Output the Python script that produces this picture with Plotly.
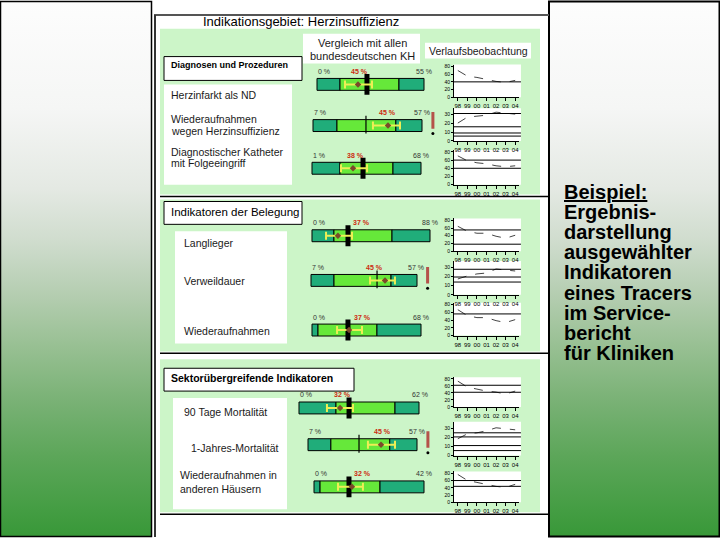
import base64
import plotly.graph_objects as go

W, H = 720, 540
FONT = "Liberation Sans, Arial, sans-serif"

# ---------------- data ----------------
indicator_labels = [
    ["Herzinfarkt als ND"],
    ["Wiederaufnahmen", "wegen Herzinsuffizienz"],
    ["Diagnostischer Katheter", "mit Folgeeingriff"],
    ["Langlieger"],
    ["Verweildauer"],
    ["Wiederaufnahmen"],
    ["90 Tage Mortalität"],
    ["1-Jahres-Mortalität"],
    ["Wiederaufnahmen in", "anderen Häusern"],
]
# comparison bars (position along each bar, 0..100)
seg_low = [21.5, 22.0, 25.7, 18.6, 21.7, 5.5, 30.8, 21.0, 5.5]
seg_high = [76.6, 76.0, 74.3, 67.8, 75.5, 59.6, 80.0, 75.0, 60.0]
national = [46.7, 48.6, 46.8, 30.5, 62.3, 33.0, 41.7, 46.8, 31.8]
hospital = [38.3, 68.8, 37.6, 22.0, 69.8, 34.0, 34.2, 67.0, 34.5]
ci_low = [26.2, 55.0, 26.6, 11.9, 55.7, 23.0, 23.3, 55.0, 21.8]
ci_high = [51.4, 79.8, 50.5, 33.9, 79.2, 45.9, 45.0, 79.8, 44.5]
mid_label_pos = [40, 68, 40, 42, 60, 46, 36, 68, 44.5]
label_min = ["0 %", "7 %", "1 %", "0 %", "7 %", "0 %", "0 %", "7 %", "0 %"]
label_mid = ["45 %", "45 %", "38 %", "37 %", "45 %", "37 %", "32 %", "45 %", "32 %"]
label_max = ["55 %", "57 %", "68 %", "88 %", "57 %", "68 %", "62 %", "57 %", "42 %"]
thin_marker = [False, True, False, False, True, False, False, True, False]

# trend charts (Verlaufsbeobachtung)
years = ["98", "99", "00", "01", "02", "03", "04"]
trend_herzinfarkt = [69.5, 54.9, 51.5, 46.4, 41.2, 38.6, 43.8]
trend_wa_herz = [20.2, 26.9, 28.0, 29.1, 32.5, 31.4, 30.3]
trend_katheter = [70.4, 58.3, 53.4, 51.0, 46.1, 43.7, 46.1]
trend_langlieger = [64.4, 51.5, 46.4, 46.4, 38.6, 33.5, 41.2]
trend_verweildauer = [17.4, 20.7, 22.9, 23.9, 28.3, 27.2, 26.1]
trend_wiederaufn = [67.0, 51.5, 46.4, 46.4, 38.6, 33.5, 41.2]
trend_mort90 = [73.7, 56.7, 51.0, 45.3, 42.5, 36.8, 45.3]
trend_mort1j = [18.5, 23.9, 25.0, 27.2, 30.5, 29.4, 28.3]
trend_wa_andere = [76.8, 60.3, 54.8, 49.4, 43.9, 41.1, 49.4]
ref_herzinfarkt = [40]
ref_wa_herz = [31, 16, 9, 5.5]
ref_katheter = [60, 40]
ref_langlieger = [55, 18]
ref_verweildauer = [28, 19.5, 14]
ref_wiederaufn = [56]
ref_mort90 = [62, 42]
ref_mort1j = [25, 20.5, 11, 5.5]
ref_wa_andere = [60, 44]
scale_max = [85, 37, 85, 85, 37, 85, 85, 37, 85]

trends = [trend_herzinfarkt, trend_wa_herz, trend_katheter, trend_langlieger, trend_verweildauer,
          trend_wiederaufn, trend_mort90, trend_mort1j, trend_wa_andere]
refs = [ref_herzinfarkt, ref_wa_herz, ref_katheter, ref_langlieger, ref_verweildauer,
        ref_wiederaufn, ref_mort90, ref_mort1j, ref_wa_andere]

side_text = ["<u>Beispiel:</u>", "Ergebnis-", "darstellung", "ausgewählter", "Indikatoren",
             "eines Tracers", "im Service-", "bericht", "für Kliniken"]

# ---------------- layout geometry (pixels) ----------------
bar_px = [(317, 424, 84), (313, 422, 125.5), (312, 421, 168.5), (312, 430, 236.5), (311, 417, 281.5),
          (312, 421, 331.5), (299, 419, 410), (308, 417, 447), (314, 424, 489.5)]
line_px = [(64, 97), (108, 141), (150, 185), (219, 252), (262, 296), (304, 337), (379, 409), (424, 458), (474, 505)]
label_pos = [[(170, 94.5)], [(170, 118.5), (170, 131)], [(170, 152), (170, 163.5)],
             [(183, 244)], [(183, 282)], [(183, 332)],
             [(183, 414)], [(190, 450)], [(179, 478), (179, 492)]]


def X(p):
    return p / W


def Y(p):
    return 1 - p / H


shapes = []
annotations = []


def prect(x0, y0, x1, y1, fill=None, lc=None, lw=0, layer="below"):
    d = dict(type="rect", xref="paper", yref="paper", x0=X(x0), x1=X(x1), y0=Y(y1), y1=Y(y0), layer=layer)
    d["fillcolor"] = fill if fill else "rgba(0,0,0,0)"
    d["line"] = dict(color=lc, width=lw) if lc else dict(width=0)
    shapes.append(d)


def pline(x0, y0, x1, y1, color="black", width=1, layer="below"):
    shapes.append(dict(type="line", xref="paper", yref="paper", x0=X(x0), x1=X(x1), y0=Y(y0), y1=Y(y1),
                       line=dict(color=color, width=width), layer=layer))


def text(x, y, s, size=10.5, color="#1a1a1a", xanchor="left", bold=False):
    annotations.append(dict(xref="paper", yref="paper", x=X(x), y=Y(y), text=("<b>%s</b>" % s) if bold else s,
                            showarrow=False, xanchor=xanchor, yanchor="middle",
                            font=dict(size=size, color=color, family=FONT), borderpad=0))


# gradient side panels (svg background image)
stops = [(0.0, "#fdfdfd"), (0.20, "#f5f6f5"), (0.35, "#e4e9e3"), (0.45, "#cfdccd"), (0.55, "#b4cdb0"),
         (0.65, "#96bf91"), (0.75, "#78b174"), (0.85, "#5ca659"), (0.95, "#449d43"), (1.0, "#389838")]
svg = ("<svg xmlns='http://www.w3.org/2000/svg' width='20' height='540' viewBox='0 0 20 540' "
       "preserveAspectRatio='none'><defs><linearGradient id='g' x1='0' y1='0' x2='0' y2='1'>"
       + "".join("<stop offset='%s' stop-color='%s'/>" % (o, c) for o, c in stops)
       + "</linearGradient></defs><rect x='0' y='0' width='20' height='540' fill='url(#g)'/></svg>")
src = "data:image/svg+xml;base64," + base64.b64encode(svg.encode("utf-8")).decode("ascii")
images = [
    dict(source=src, xref="paper", yref="paper", x=0, y=1, sizex=X(152), sizey=1, sizing="stretch",
         xanchor="left", yanchor="top", layer="below"),
    dict(source=src, xref="paper", yref="paper", x=X(549), y=1, sizex=X(171), sizey=1, sizing="stretch",
         xanchor="left", yanchor="top", layer="below"),
]
prect(0.5, 0.5, 151.5, 539.5, lc="black", lw=1.5)
prect(549, 0.5, 719.5, 539.5, lc="black", lw=2)

# middle frame
pline(154, 14, 549, 14, color="#555555", width=2)
pline(155, 14, 155, 540, color="#333333", width=2)

# sections
SEC = "#ccf5c8"
prect(160, 28, 540, 195, fill=SEC)
pline(160, 197, 548, 197, width=1.5)
prect(160, 200, 540, 353, fill=SEC)
pline(160, 355, 548, 355, width=1.5)
prect(160, 361, 540, 515, fill=SEC)
pline(160, 517, 548, 517, width=1.5)

# header boxes
prect(303, 33, 420, 63, fill="white")
prect(425, 42, 531, 58, fill="white")
prect(164, 56, 302, 80, fill="white", lc="black", lw=1)
prect(164, 202, 302, 225, fill="white", lc="black", lw=1)
prect(164, 370, 354, 393, fill="white", lc="black", lw=1)
# label boxes
prect(164, 84, 292, 185, fill="white")
prect(175, 232, 287, 345, fill="white")
prect(173, 400, 287, 512, fill="white")

text(202, 21, "Indikationsgebiet: Herzinsuffizienz", size=13, color="black")
text(362, 42, "Vergleich mit allen", size=11, xanchor="center")
text(362, 55, "bundesdeutschen KH", size=11, xanchor="center")
text(478, 50, "Verlaufsbeobachtung", size=10.5, xanchor="center")
text(170, 64, "Diagnosen und Prozeduren", size=9, bold=True, color="black")
text(170, 213, "Indikatoren der Belegung", size=11.5, color="black")
text(170, 380, "Sektorübergreifende Indikatoren", size=10.5, bold=True, color="black")

for lines, poss in zip(indicator_labels, label_pos):
    for s, (x, y) in zip(lines, poss):
        text(x, y, s, size=10.5)

for k, s in enumerate(side_text):
    text(563, 192.3 + 20.3 * k, s, size=20, bold=True, color="black")

fig = go.Figure()
axes = {}
TEAL = "#20ad7a"
GREEN = "#66e83a"
BW = 0.75


def sfx(n):
    return "" if n == 1 else str(n)


for i in range(9):
    n = i + 1
    L, R, cy = bar_px[i]
    w = R - L
    xa, ya = "x" + sfx(n), "y" + sfx(n)
    axes["xaxis" + sfx(n)] = dict(domain=[X(L - 3 * w / 100), X(R + 15 * w / 100)], range=[-3, 115],
                                  visible=False, fixedrange=True, anchor=ya)
    axes["yaxis" + sfx(n)] = dict(domain=[Y(cy + 16), Y(cy - 16)], range=[-1, 1],
                                  visible=False, fixedrange=True, anchor=xa)
    segs = [(0, seg_low[i], TEAL), (seg_low[i], seg_high[i], GREEN), (seg_high[i], 100, TEAL)]
    for a, b, col in segs:
        fig.add_trace(go.Bar(orientation="h", y=[0], x=[b - a], base=[a], width=BW,
                             marker=dict(color=col, line=dict(color="black", width=1)),
                             xaxis=xa, yaxis=ya, showlegend=False, hoverinfo="skip"))
    if thin_marker[i]:
        fig.add_trace(go.Scatter(x=[national[i], national[i]], y=[-0.5, 0.62], mode="lines",
                                 line=dict(color="black", width=1.2), xaxis=xa, yaxis=ya,
                                 showlegend=False, hoverinfo="skip"))
        fig.add_trace(go.Scatter(x=[110, 110], y=[0.85, -0.2], mode="lines",
                                 line=dict(color="#b5524a", width=3), xaxis=xa, yaxis=ya,
                                 showlegend=False, hoverinfo="skip"))
        fig.add_trace(go.Scatter(x=[110], y=[-0.5], mode="markers",
                                 marker=dict(color="black", size=3), xaxis=xa, yaxis=ya,
                                 showlegend=False, hoverinfo="skip"))
    else:
        fig.add_trace(go.Scatter(x=[national[i], national[i]], y=[-0.66, 0.66], mode="lines",
                                 line=dict(color="black", width=5), xaxis=xa, yaxis=ya,
                                 showlegend=False, hoverinfo="skip"))
    fig.add_trace(go.Scatter(x=[hospital[i]], y=[0], mode="markers",
                             marker=dict(color="#7a4a2a", size=5, symbol="diamond"),
                             error_x=dict(type="data", symmetric=False,
                                          array=[ci_high[i] - hospital[i]],
                                          arrayminus=[hospital[i] - ci_low[i]],
                                          color="#eeee55", thickness=2, width=4),
                             xaxis=xa, yaxis=ya, showlegend=False, hoverinfo="skip"))
    lab = dict(xref=xa, yref=ya, y=0.82, showarrow=False, yanchor="middle", borderpad=0)
    annotations.append(dict(lab, x=0, text=label_min[i], xanchor="left",
                            font=dict(size=7, color="#333333", family=FONT)))
    annotations.append(dict(lab, x=mid_label_pos[i], text="<b>%s</b>" % label_mid[i], xanchor="center",
                            font=dict(size=7, color="#cc2a10", family=FONT)))
    annotations.append(dict(lab, x=108, text=label_max[i], xanchor="right",
                            font=dict(size=7, color="#333333", family=FONT)))

for i in range(9):
    n = 10 + i
    top, bot = line_px[i]
    xa, ya = "x%d" % n, "y%d" % n
    smax = scale_max[i]
    tv = [0, 20, 40, 60, 80] if smax > 50 else [0, 10, 20, 30]
    axes["xaxis%d" % n] = dict(domain=[X(454), X(519)], type="category", categoryorder="array",
                               categoryarray=years, range=[-0.4, 6.4], showline=True, linecolor="black",
                               linewidth=1, ticks="outside", ticklen=3, tickcolor="black",
                               tickfont=dict(size=6, color="black", family=FONT), showgrid=False,
                               zeroline=False, anchor=ya, fixedrange=True)
    axes["yaxis%d" % n] = dict(domain=[Y(bot), Y(top)], range=[0, smax], tickvals=tv, showline=True,
                               linecolor="black", linewidth=1, ticks="outside", ticklen=2, tickcolor="black",
                               tickfont=dict(size=5, color="black", family=FONT), showgrid=False,
                               zeroline=False, anchor=xa, fixedrange=True)
    shapes.append(dict(type="rect", xref=xa + " domain", yref=ya + " domain", x0=0, x1=1.03, y0=0, y1=1,
                       fillcolor="white", line=dict(width=0), layer="below"))
    for v in refs[i]:
        shapes.append(dict(type="line", xref=xa + " domain", yref=ya, x0=0, x1=1.03, y0=v, y1=v,
                           line=dict(color="black", width=1), layer="above"))
    fig.add_trace(go.Scatter(x=years, y=trends[i], mode="lines",
                             line=dict(color="#444444", width=1, dash="dash"),
                             xaxis=xa, yaxis=ya, showlegend=False, hoverinfo="skip"))

fig.update_layout(width=W, height=H, margin=dict(l=0, r=0, t=0, b=0), paper_bgcolor="white",
                  plot_bgcolor="rgba(0,0,0,0)", barmode="overlay", showlegend=False,
                  font=dict(family=FONT), shapes=shapes, annotations=annotations, images=images, **axes)
fig.write_html("out.html", config={"displayModeBar": False},
               post_script="document.body.style.margin='0px';")
